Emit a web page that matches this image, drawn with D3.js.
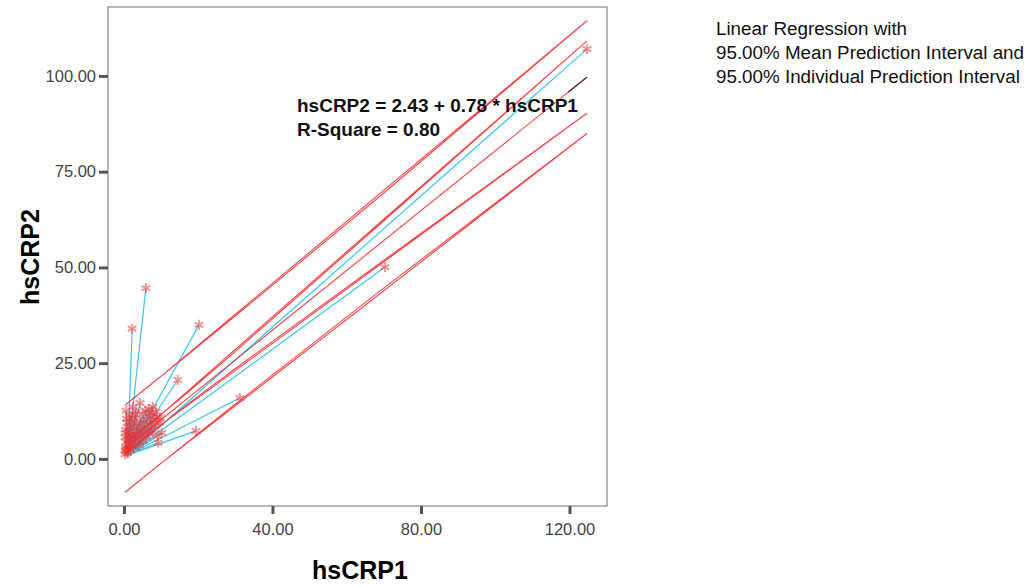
<!DOCTYPE html>
<html>
<head>
<meta charset="utf-8">
<script src="https://cdn.jsdelivr.net/npm/d3@7"></script>
<style>
  body { margin: 0; background: #fff; }
  svg { display: block; font-family: "Liberation Sans", Arial, sans-serif; }
</style>
</head>
<body>
<div id="chart"></div>
<script>
// observations in data order (the interval lines are joined in this order)
const hsCRP1 = [0.3, 0.5, 0.4, 0.6, 0.3, 0.5, 0.4, 0.8, 0.6, 0.9, 1.0, 1.2, 1.1, 1.3, 1.5, 1.4, 1.8, 1.7, 2.0, 2.1,
  1.9, 2.3, 2.5, 2.6, 2.8, 2.7, 3.0, 3.2, 3.4, 0.4,
  14.5, 19.4, 20.2, 31.2, 70.3, 124.7,
  9.8, 3.5, 3.3, 3.8, 4.0, 4.2, 4.3, 4.1, 4.6, 4.8, 5.0, 5.2, 5.4, 5.5, 5.8, 5.9, 6.0, 6.2, 6.4, 6.6,
  6.8, 7.0, 7.2, 7.5, 7.8, 7.6, 8.0, 8.3, 2.2, 8.6, 8.9, 9.2, 9.0, 9.5, 10.2, 1.6, 2.4, 0.7];
const hsCRP2 = [1.2, 2.0, 3.1, 4.5, 5.6, 6.8, 7.6, 9.4, 12.6, 1.5, 2.6, 3.4, 5.0, 6.2, 7.1, 8.3, 2.2, 3.9, 4.8, 6.0,
  9.6, 10.8, 3.0, 5.4, 7.0, 8.6, 11.5, 4.1, 6.3, 2.4,
  20.6, 7.3, 35.0, 15.9, 50.1, 107.0,
  10.8, 9.0, 12.4, 5.2, 7.4, 10.1, 14.6, 3.5, 6.0, 8.2, 11.8, 4.6, 9.5, 7.0, 12.6, 44.6, 5.8, 10.4, 8.0, 13.0,
  6.6, 11.2, 9.0, 12.0, 13.6, 7.4, 10.2, 8.6, 34.0, 12.3, 11.0, 4.2, 6.0, 9.4, 6.8, 11.4, 13.6, 10.5];

// fit as printed on the chart
const intercept = 2.43;
const slope = 0.78;
const rSquare = 0.80;
const residualSD = 5.7;
const tValue = 1.98;
const spikeOrigin = [1.0, 1.0];

const xTicks = [0, 40, 80, 120];
const yTicks = [0, 25, 50, 75, 100];
const legendLines = ["Linear Regression with", "95.00% Mean Prediction Interval and", "95.00% Individual Prediction Interval"];

const W = 1032, H = 587;
const box = { left: 108, right: 607, top: 7, bottom: 506 };

const svg = d3.select("#chart").append("svg").attr("width", W).attr("height", H);

const x = d3.scaleLinear().domain([-4.3, 130.1]).range([box.left, box.right]);
const y = d3.scaleLinear().domain([-12.3, 118]).range([box.bottom, box.top]);

const pts = hsCRP1.map((v, i) => ({ x: v, y: hsCRP2[i] }));
const n = pts.length;
const xbar = d3.mean(hsCRP1);
const sxx = d3.sum(hsCRP1, v => (v - xbar) * (v - xbar));
const fit = v => intercept + slope * v;
const seMean = v => residualSD * Math.sqrt(1 / n + (v - xbar) * (v - xbar) / sxx);
const seInd = v => residualSD * Math.sqrt(1 + 1 / n + (v - xbar) * (v - xbar) / sxx);

svg.append("clipPath").attr("id", "clip").append("rect")
  .attr("x", box.left).attr("y", box.top)
  .attr("width", box.right - box.left).attr("height", box.bottom - box.top);

const plot = svg.append("g").attr("clip-path", "url(#clip)");

// spikes
plot.selectAll("line.spike").data(pts).join("line")
  .attr("class", "spike")
  .attr("x1", x(spikeOrigin[0])).attr("y1", y(spikeOrigin[1]))
  .attr("x2", d => x(d.x)).attr("y2", d => y(d.y))
  .attr("stroke", "#3cc6f4").attr("stroke-width", 1.2);

// fit + interval lines, joined in data order
const bounds = [
  v => fit(v) + tValue * seInd(v),
  v => fit(v) + tValue * seMean(v),
  v => fit(v),
  v => fit(v) - tValue * seMean(v),
  v => fit(v) - tValue * seInd(v)
];
const line = d3.line();
bounds.forEach(f => {
  plot.append("path")
    .attr("d", line(pts.map(d => [x(d.x), y(f(d.x))])))
    .attr("fill", "none").attr("stroke", "#f0262b").attr("stroke-width", 1.1).attr("stroke-opacity", 0.85);
});
const xmax = d3.max(hsCRP1);
plot.append("line")
  .attr("x1", x(xmax - 5)).attr("y1", y(fit(xmax - 5)))
  .attr("x2", x(xmax)).attr("y2", y(fit(xmax)))
  .attr("stroke", "#3a2020").attr("stroke-width", 1.2);

// markers
const star = d3.symbol().type(d3.symbolAsterisk).size(70);
plot.selectAll("path.pt").data(pts).join("path")
  .attr("class", "pt")
  .attr("transform", d => `translate(${x(d.x)},${y(d.y)})`)
  .attr("d", star)
  .attr("fill", "none").attr("stroke", "#f03030").attr("stroke-width", 2).attr("stroke-opacity", 0.5);

// frame
svg.append("rect")
  .attr("x", box.left).attr("y", box.top)
  .attr("width", box.right - box.left).attr("height", box.bottom - box.top)
  .attr("fill", "none").attr("stroke", "#888").attr("stroke-width", 1.2);

// axes
const xAxis = svg.append("g").attr("transform", `translate(0,${box.bottom})`)
  .call(d3.axisBottom(x).tickValues(xTicks).tickFormat(d3.format(".2f")).tickSize(8).tickPadding(9));
const yAxis = svg.append("g").attr("transform", `translate(${box.left},0)`)
  .call(d3.axisLeft(y).tickValues(yTicks).tickFormat(d3.format(".2f")).tickSize(9).tickPadding(3));
[xAxis, yAxis].forEach(g => {
  g.select(".domain").remove();
  g.selectAll(".tick line").attr("stroke", "#555").attr("stroke-width", 3);
  g.selectAll(".tick text").attr("fill", "#444").style("font-size", "16.5px")
    .style("font-family", "'Liberation Sans', Arial, sans-serif");
});

// axis titles
svg.append("text").attr("x", 360).attr("y", 579).attr("text-anchor", "middle")
  .style("font-size", "25px").style("font-weight", "bold").text("hsCRP1");
svg.append("text").attr("transform", `translate(39,257) rotate(-90)`).attr("text-anchor", "middle")
  .style("font-size", "25px").style("font-weight", "bold").text("hsCRP2");

// fit annotation
const ann = svg.append("g").style("font-size", "19px").style("font-weight", "bold").attr("fill", "#111");
ann.append("text").attr("x", 297).attr("y", 112)
  .text(`hsCRP2 = ${intercept.toFixed(2)} + ${slope.toFixed(2)} * hsCRP1`);
ann.append("text").attr("x", 297).attr("y", 136).text(`R-Square = ${rSquare.toFixed(2)}`);

// legend text
svg.append("g").style("font-size", "18.8px").attr("fill", "#111")
  .selectAll("text").data(legendLines).join("text")
  .attr("x", 716).attr("y", (d, i) => 35 + i * 24).text(d => d);
</script>
</body>
</html>
